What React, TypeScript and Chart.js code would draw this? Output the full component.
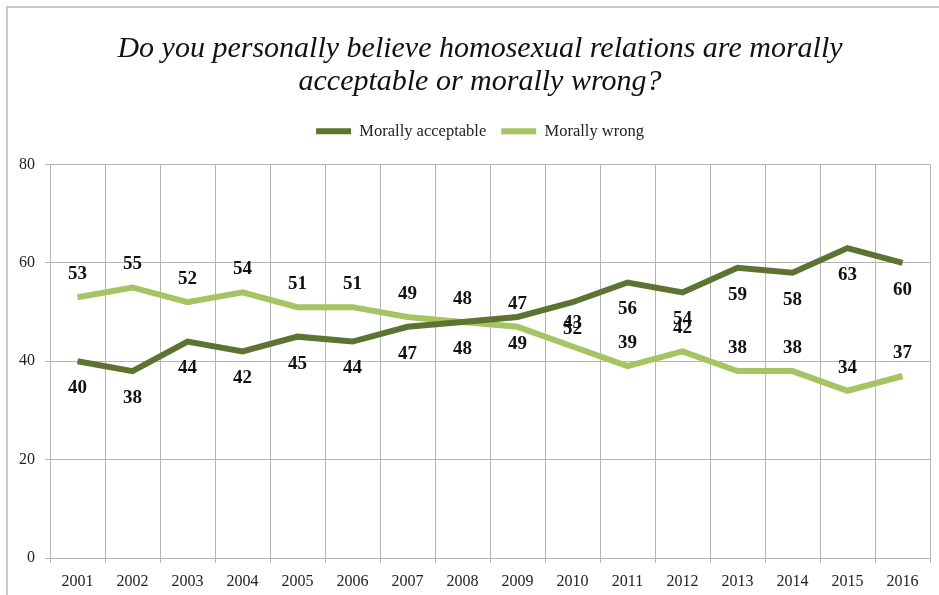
import React, { useEffect, useRef } from "react";
import { Chart, registerables } from "chart.js";

Chart.register(...registerables);

const years = ["2001","2002","2003","2004","2005","2006","2007","2008","2009","2010","2011","2012","2013","2014","2015","2016"];
const acceptable = [40,38,44,42,45,44,47,48,49,52,56,54,59,58,63,60];
const wrong = [53,55,52,54,51,51,49,48,47,43,39,42,38,38,34,37];
const yTicks = [0, 20, 40, 60, 80];
const titleLines = ["Do you personally believe homosexual relations are morally", "acceptable or morally wrong?"];

const DARK = "#5C7332";
const LIGHT = "#A6C464";
const SERIF = "'Liberation Serif', 'Times New Roman', serif";

const valueLabels = {
  id: "valueLabels",
  afterDatasetsDraw(chart: any) {
    const ctx = chart.ctx;
    ctx.save();
    ctx.font = `bold 19px ${SERIF}`;
    ctx.fillStyle = "#111";
    ctx.textAlign = "center";
    ctx.textBaseline = "middle";
    chart.data.datasets.forEach((ds: any, i: number) => {
      const meta = chart.getDatasetMeta(i);
      const off = i === 0 ? 27 : -23;
      meta.data.forEach((pt: any, j: number) => {
        ctx.fillText(String(ds.data[j]), pt.x, pt.y + off);
      });
    });
    ctx.restore();
  },
};

const legendSpacer = {
  id: "legendSpacer",
  beforeInit(chart: any) {
    const orig = chart.legend.fit;
    chart.legend.fit = function () {
      orig.call(this);
      this.height += 15;
    };
  },
};

export default function App() {
  const ref = useRef<HTMLCanvasElement | null>(null);
  useEffect(() => {
    if (!ref.current) return;
    const chart = new Chart(ref.current, {
      type: "line",
      data: {
        labels: years,
        datasets: [
          { label: "Morally acceptable", data: acceptable, borderColor: DARK, backgroundColor: DARK, borderWidth: 6, pointRadius: 0, tension: 0 },
          { label: "Morally wrong", data: wrong, borderColor: LIGHT, backgroundColor: LIGHT, borderWidth: 6, pointRadius: 0, tension: 0 },
        ],
      },
      options: {
        animation: false,
        responsive: true,
        maintainAspectRatio: false,
        layout: { padding: { left: 0, right: 0, top: 0, bottom: 0 } },
        plugins: {
          tooltip: { enabled: false },
          title: {
            display: true,
            text: titleLines,
            color: "#111",
            font: { family: SERIF, size: 30, style: "italic", weight: "normal", lineHeight: 1.1 },
            padding: { top: 33, bottom: 9 },
          },
          legend: {
            display: true,
            position: "top",
            labels: {
              color: "#222",
              font: { family: SERIF, size: 16.5 },
              boxWidth: 35,
              boxHeight: 6,
              padding: 15,
              generateLabels(c: any) {
                return c.data.datasets.map((d: any, i: number) => ({
                  text: d.label,
                  fillStyle: d.borderColor,
                  strokeStyle: d.borderColor,
                  lineWidth: 0,
                  hidden: false,
                  datasetIndex: i,
                  fontColor: "#222",
                }));
              },
            },
          },
        },
        scales: {
          x: {
            offset: true,
            afterFit(scale: any) { scale.height = 37; },
            grid: { display: true, color: "#b4b4b4", lineWidth: 1, offset: true, tickLength: 5, drawTicks: true },
            border: { display: true, color: "#b4b4b4" },
            ticks: { color: "#222", font: { family: SERIF, size: 16 }, padding: 9, maxRotation: 0, autoSkip: false },
          },
          y: {
            min: 0,
            max: 80,
            afterFit(scale: any) { scale.width = 50; },
            afterBuildTicks(scale: any) { scale.ticks = yTicks.map((v) => ({ value: v })); },
            grid: { color: "#b4b4b4", lineWidth: 1, tickLength: 5 },
            border: { display: true, color: "#b4b4b4" },
            ticks: { color: "#222", font: { family: SERIF, size: 16 }, padding: 10 },
          },
          pad: {
            type: "linear",
            position: "right",
            display: true,
            afterFit(scale: any) { scale.width = 30; },
            grid: { display: false, drawTicks: false },
            border: { display: false },
            ticks: { display: false },
          },
        },
      },
      plugins: [valueLabels, legendSpacer],
    });
    return () => chart.destroy();
  }, []);

  return (
    <div style={{ position: "fixed", left: 0, top: 0, width: 939, height: 595, background: "#fff", overflow: "hidden" }}>
      <div style={{ position: "absolute", left: 6, top: 6, width: 980, height: 620, borderLeft: "2px solid #c8c8c8", borderTop: "2px solid #c8c8c8" }} />
      <div style={{ position: "absolute", left: 0, top: 0, width: 960, height: 595 }}>
        <canvas ref={ref} />
      </div>
    </div>
  );
}
